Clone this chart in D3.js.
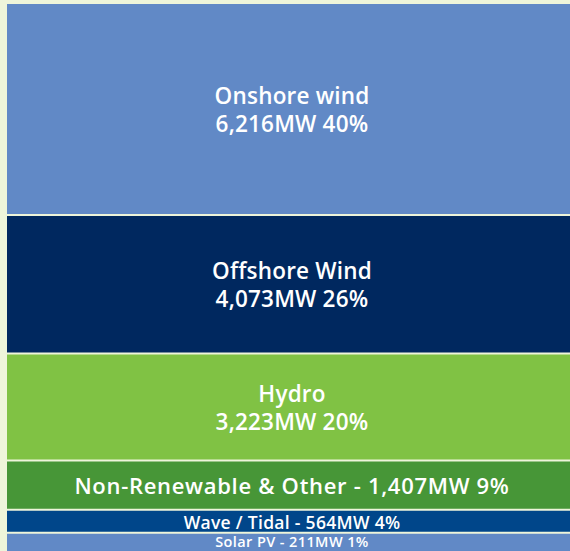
<!DOCTYPE html>
<html>
<head>
<meta charset="utf-8">
<script src="https://cdn.jsdelivr.net/npm/d3@7/dist/d3.min.js"></script>
<style>
  html, body { margin: 0; padding: 0; background: #eef5da; overflow: hidden; }
  svg { display: block; }
  text { font-family: "Open Sans", sans-serif; fill: #ffffff; font-weight: 600; }
</style>
</head>
<body>
<svg id="chart" width="570" height="551"></svg>
<script>
const categories = ["Onshore wind", "Offshore Wind", "Hydro", "Non-Renewable & Other", "Wave / Tidal", "Solar PV"];
const capacityMW = [6216, 4073, 3223, 1407, 564, 211];
const percents = [40, 26, 20, 9, 4, 1];
const colors = ["#6189c6", "#00285f", "#80c244", "#479637", "#00468a", "#6189c6"];
const twoLine = [true, true, true, false, false, false];
const fontSizes = [22.5, 22.5, 22.5, 22, 17.5, 14.5];
const letterSpacings = [0.2, 0.2, 0.2, 0.7, 0.3, 0.4];

(function () {
const leftX = 7, rightX = 577, topY = 4, gap = 2;
const svg = d3.select("#chart");

const y = d3.scaleLinear().domain([0, 100]).range([topY, topY + 525]);
const fmt = d3.format(",");

let cum = 0;
const rows = categories.map((c, i) => {
  const y0 = y(cum) + i * gap;
  cum += percents[i];
  let y1 = y(cum) + i * gap;
  if (y1 - y0 < 20) y1 = y0 + 20;
  return { name: c, mw: capacityMW[i], pct: percents[i], color: colors[i], two: twoLine[i],
           fs: fontSizes[i], ls: letterSpacings[i], y0, y1 };
});

const g = svg.selectAll("g.row").data(rows).join("g").attr("class", "row");
g.append("rect")
  .attr("x", leftX)
  .attr("y", d => d.y0)
  .attr("width", rightX - leftX)
  .attr("height", d => d.y1 - d.y0)
  .attr("fill", d => d.color);

const cx = (leftX + rightX) / 2;
g.each(function(d) {
  const sel = d3.select(this);
  const mid = (d.y0 + d.y1) / 2;
  const valueText = fmt(d.mw) + "MW " + d.pct + "%";
  const add = (yy, t) => sel.append("text").attr("x", cx).attr("y", yy)
      .attr("text-anchor", "middle").attr("font-size", d.fs)
      .style("letter-spacing", d.ls + "px").text(t);
  if (d.two) {
    add(mid - 5.2, d.name);
    add(mid + 23, valueText);
  } else {
    add(Math.min(mid + d.fs * 0.42, 547), d.name + " - " + valueText);
  }
});
})();
</script>
</body>
</html>
